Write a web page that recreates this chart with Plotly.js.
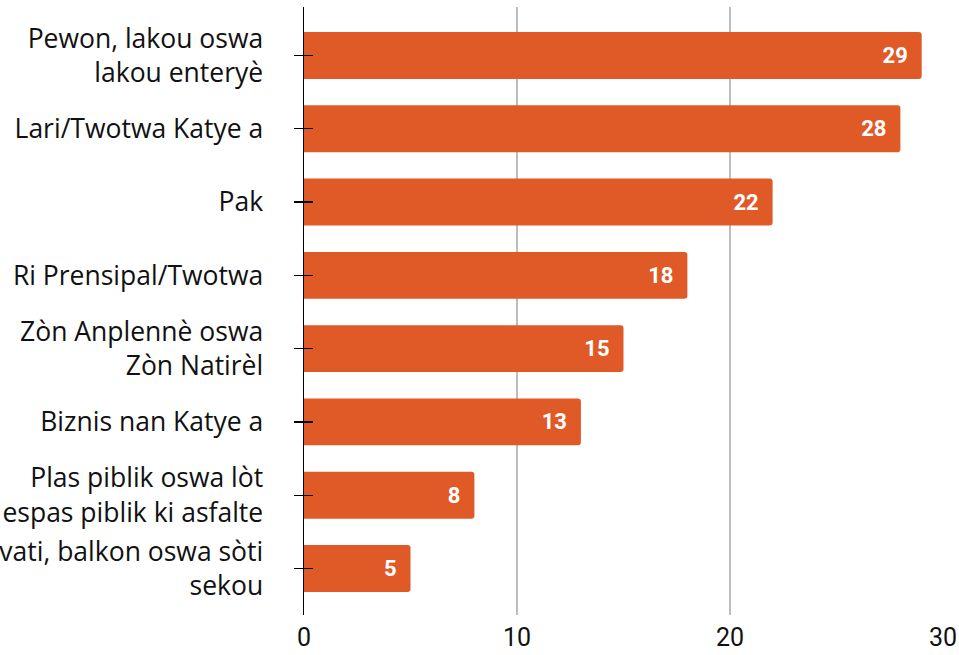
<!DOCTYPE html>
<html>
<head>
<meta charset="utf-8">
<script src="https://cdn.plot.ly/plotly-3.0.1.min.js"></script>
<style>html,body{margin:0;padding:0;background:#fff;overflow:hidden}#chart{width:959px;height:655px}</style>
</head>
<body>
<div id="chart"></div>
<script>
const categories = [
  "Pewon, lakou oswa<br>lakou enteryè",
  "Lari/Twotwa Katye a",
  "Pak",
  "Ri Prensipal/Twotwa",
  "Zòn Anplennè oswa<br>Zòn Natirèl",
  "Biznis nan Katye a",
  "Plas piblik oswa lòt<br>espas piblik ki asfalte",
  "Lakou privati, balkon oswa sòti<br>sekou"
];
const values = [29, 28, 22, 18, 15, 13, 8, 5];
const xTicks = [0, 10, 20, 30];

const data = [{
  type: 'bar',
  orientation: 'h',
  y: categories,
  x: values,
  marker: {color: '#E05A28', cornerradius: 3},
  text: values.map(v => String(v) + '\u00a0\u00a0'),
  textposition: 'inside',
  insidetextanchor: 'end',
  textangle: 0,
  textfont: {family: 'Roboto', size: 22, color: '#ffffff', weight: 'bold'},
  hoverinfo: 'skip'
}, {
  type: 'scatter',
  mode: 'markers',
  y: categories,
  x: values,
  yaxis: 'y2',
  marker: {opacity: 0, size: 1},
  hoverinfo: 'skip',
  showlegend: false
}];

const layout = {
  width: 959, height: 655,
  margin: {l: 304, r: 16, t: 7, b: 40, pad: 0},
  paper_bgcolor: '#ffffff', plot_bgcolor: '#ffffff',
  showlegend: false,
  bargap: 0.36,
  xaxis: {
    range: [0, 30], tickvals: xTicks, ticktext: xTicks.map(String),
    showgrid: true, gridcolor: '#bdbdbd', gridwidth: 1.5,
    zeroline: false, showline: false, ticks: '',
    tickfont: {family: 'Roboto', size: 25, color: '#111111'},
    ticklabelstandoff: 5, fixedrange: true
  },
  yaxis: {
    type: 'category',
    range: [7.635, -0.662],
    showgrid: false, zeroline: false,
    showline: true, linecolor: '#000000', linewidth: 1.5,
    ticks: 'outside', ticklen: 9, tickwidth: 1.2, tickcolor: '#000000',
    tickfont: {family: 'Open Sans', size: 26.5, color: '#111111'},
    ticklabelstandoff: 25,
    fixedrange: true
  },
  yaxis2: {
    type: 'category',
    overlaying: 'y', anchor: 'x', side: 'left',
    range: [7.635, -0.662],
    showticklabels: false,
    showgrid: false, zeroline: false, showline: false,
    ticks: 'inside', ticklen: 9, tickwidth: 1.2, tickcolor: '#000000',
    fixedrange: true
  }
};

Plotly.newPlot('chart', data, layout, {displayModeBar: false, staticPlot: true});
</script>
</body>
</html>
